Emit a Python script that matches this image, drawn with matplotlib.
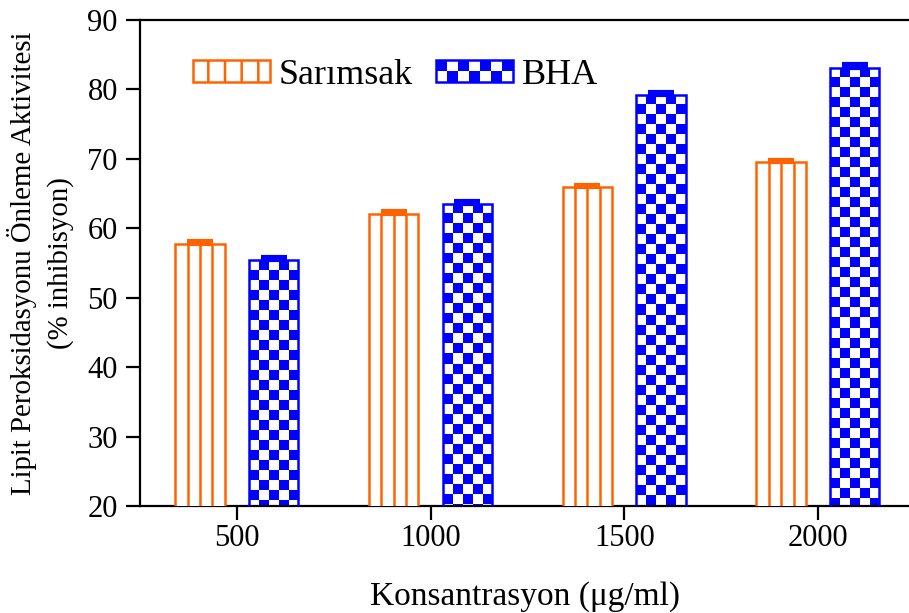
import numpy as np
import matplotlib
matplotlib.use('Agg')
import matplotlib.pyplot as plt
from matplotlib.patches import Patch, Rectangle
from matplotlib.colors import ListedColormap
from matplotlib.legend_handler import HandlerBase

# ---- data ----
concentrations = ['500', '1000', '1500', '2000']
sarimsak = [57.7, 62.0, 65.9, 69.5]
sarimsak_err = [0.4, 0.5, 0.4, 0.4]
bha = [55.4, 63.5, 79.2, 83.1]
bha_err = [0.4, 0.4, 0.4, 0.5]
series_names = ['Sarımsak', 'BHA']
xlabel = 'Konsantrasyon (μg/ml)'
ylabel = 'Lipit Peroksidasyonu Önleme Aktivitesi\n(% inhibisyon)'

ORANGE = '#FF6200'
BLUE = '#0000FF'

plt.rcParams['font.family'] = ['Liberation Serif', 'DejaVu Serif']
plt.rcParams['hatch.linewidth'] = 1.8

fig = plt.figure(figsize=(9.09, 6.13), dpi=100)
ax = fig.add_axes([140 / 909, 1 - 506 / 613, 1 - 140 / 909, (506 - 20) / 613])

x = np.arange(len(concentrations))
w = 0.255
off = 0.19
YMIN, YMAX = 20, 90
ax.set_xlim(-0.5, 3.47)
ax.set_ylim(YMIN, YMAX)

# Sarimsak bars (4 vertical columns)
sb = ax.bar(x - off, sarimsak, w, facecolor='white', edgecolor=ORANGE, linewidth=1.8, zorder=3)
for rect, v in zip(sb, sarimsak):
    xs = [rect.get_x() + rect.get_width() * k / 4 for k in (1, 2, 3)]
    ax.vlines(xs, 0, v, color=ORANGE, linewidth=1.8, zorder=3)
ax.errorbar(x - off, sarimsak, yerr=[np.zeros(len(x)), sarimsak_err], fmt='none',
            ecolor=ORANGE, elinewidth=1.8, capsize=9.4, capthick=3, zorder=4)

# BHA bars (checkerboard)
bb = ax.bar(x + off, bha, w, facecolor='none', edgecolor=BLUE, linewidth=1.8, zorder=3)
fig.canvas.draw()
p0 = ax.transData.transform((0, 0))
p1 = ax.transData.transform((1, 1))
px_x = p1[0] - p0[0]
px_y = p1[1] - p0[1]
sq = 10.0
sqx, sqy = sq / px_x, sq / px_y
cmap = ListedColormap(['white', BLUE])
for rect, v in zip(bb, bha):
    ncol = int(np.ceil(rect.get_width() / sqx))
    nrow = int(np.ceil((v - YMIN) / sqy)) + 1
    arr = (np.add.outer(np.arange(nrow), np.arange(ncol)) % 2).astype(float)
    x0 = rect.get_x()
    im = ax.imshow(arr, cmap=cmap, interpolation='nearest', origin='upper', aspect='auto',
                   extent=(x0, x0 + ncol * sqx, v - nrow * sqy, v), zorder=2, vmin=0, vmax=1)
    clip = Rectangle((x0, YMIN), rect.get_width(), v - YMIN, transform=ax.transData)
    im.set_clip_path(clip)
ax.errorbar(x + off, bha, yerr=[np.zeros(len(x)), bha_err], fmt='none',
            ecolor=BLUE, elinewidth=1.8, capsize=9.4, capthick=3, zorder=4)

ax.set_xlim(-0.5, 3.47)
ax.set_ylim(YMIN, YMAX)

# axes styling
ax.spines['right'].set_visible(False)
for s in ('left', 'bottom', 'top'):
    ax.spines[s].set_linewidth(1.6)
ax.set_xticks(x)
ax.set_xticklabels(concentrations)
ax.set_yticks(np.arange(20, 91, 10))
ax.tick_params(axis='both', direction='out', length=10, width=1.6, labelsize=22)
ax.tick_params(axis='y', pad=6)
ax.tick_params(axis='x', pad=3)
ax.set_xlabel(xlabel, fontsize=24, labelpad=20)
ax.set_ylabel(ylabel, fontsize=20.8, labelpad=10, linespacing=1.45)


class CheckerHandler(HandlerBase):
    def __init__(self, ncols=7, nrows=2, color=BLUE, **kw):
        super().__init__(**kw)
        self.ncols, self.nrows, self.color = ncols, nrows, color

    def create_artists(self, legend, orig_handle, xdescent, ydescent, width, height, fontsize, trans):
        arts = []
        x0, y0 = -xdescent, -ydescent
        cw, ch = width / self.ncols, height / self.nrows
        for i in range(self.nrows):
            for j in range(self.ncols):
                if (i + j) % 2 == 1:
                    arts.append(Rectangle((x0 + j * cw, y0 + i * ch), cw, ch, facecolor=self.color,
                                          edgecolor='none', transform=trans))
        arts.append(Rectangle((x0, y0), width, height, facecolor='none', edgecolor=self.color,
                              linewidth=1.8, transform=trans))
        return arts


FS_LEG = 26
h1 = Patch(facecolor='white', edgecolor=ORANGE, hatch='|', linewidth=1.8)
h2 = Patch(facecolor='white', edgecolor=BLUE)
leg = ax.legend([h1, h2], series_names, ncol=2, frameon=False, fontsize=FS_LEG,
                handlelength=77 / (FS_LEG * 100 / 72), handleheight=21 / (FS_LEG * 100 / 72),
                handletextpad=0.25, columnspacing=0.62,
                borderpad=0, borderaxespad=0, loc='center left',
                bbox_to_anchor=(193 / 909, 1 - 75 / 613), bbox_transform=fig.transFigure,
                handler_map={h2: CheckerHandler()})

fig.savefig('out.png', dpi=100)
